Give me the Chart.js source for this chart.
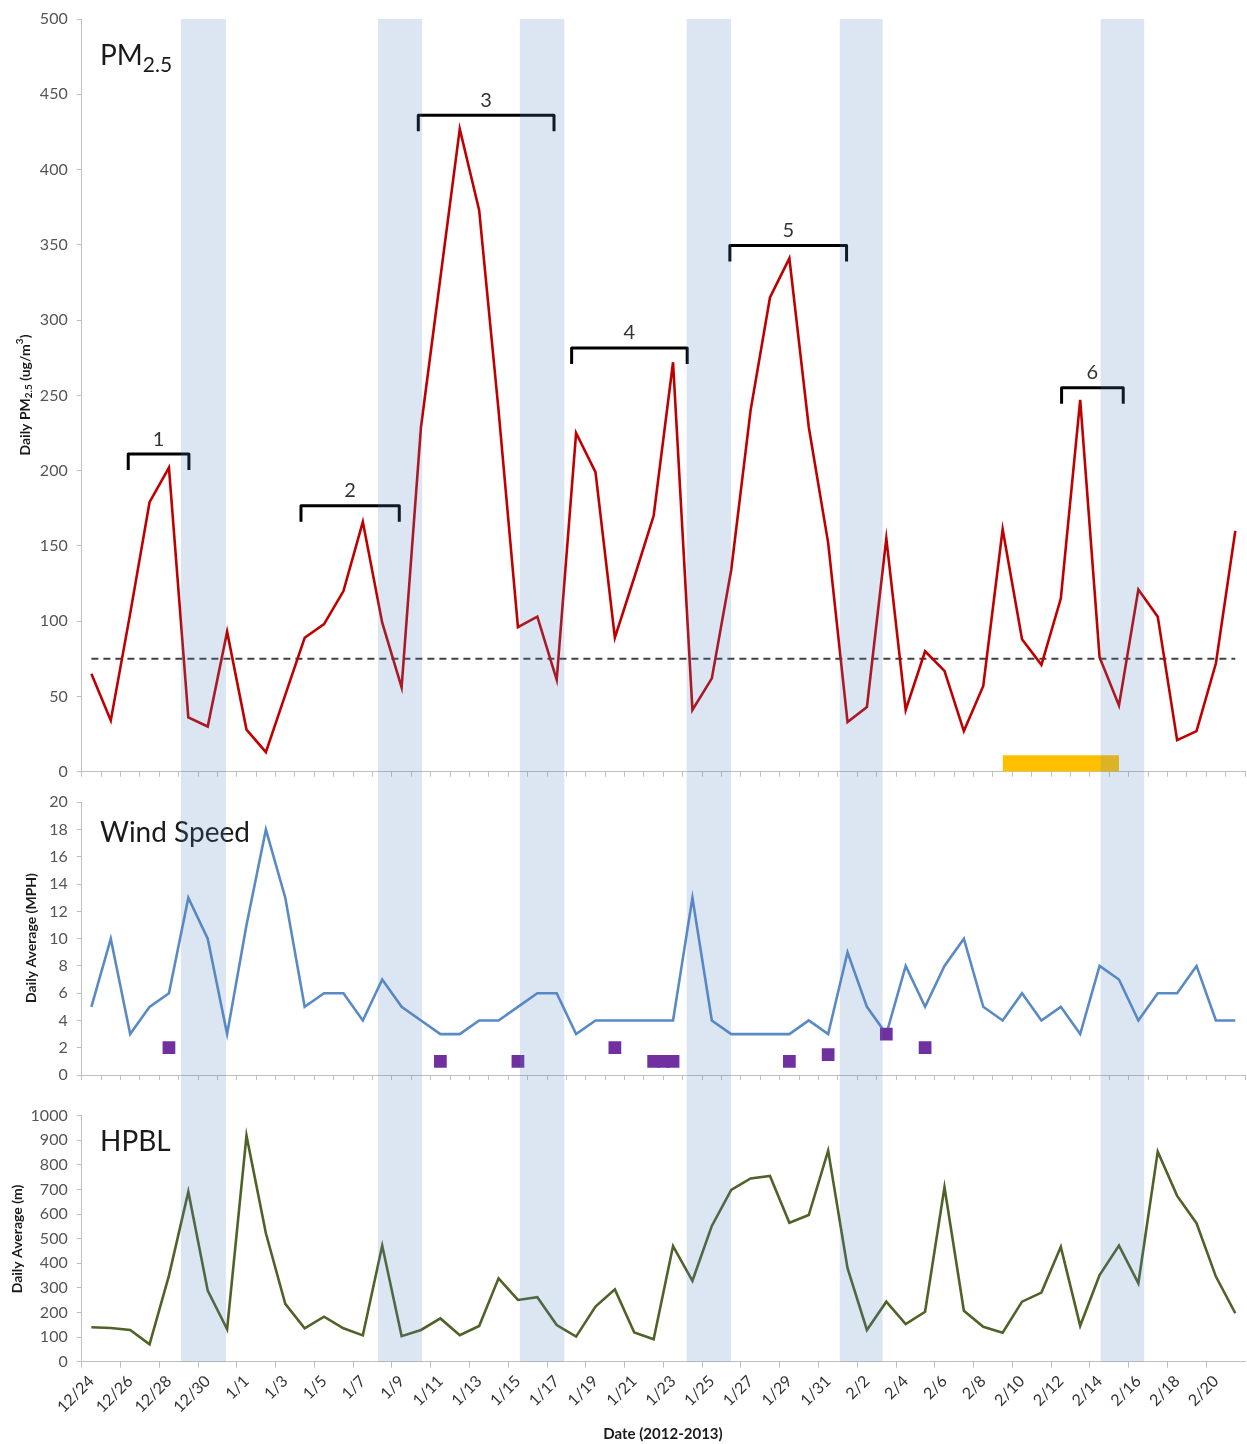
<!DOCTYPE html>
<html>
<head>
<meta charset="utf-8">
<script src="https://cdn.jsdelivr.net/npm/chart.js@4/dist/chart.umd.min.js"></script>
<style>
  html, body { margin: 0; padding: 0; background: #fff; }
  #wrap { position: relative; width: 1247px; height: 1444px; }
  canvas { position: absolute; left: 0; }
</style>
</head>
<body>
<div id="wrap">
  <canvas id="pm" width="1247" height="785" style="top:0"></canvas>
  <canvas id="wind" width="1247" height="305" style="top:785px"></canvas>
  <canvas id="hpbl" width="1247" height="354" style="top:1090px"></canvas>
</div>
<script>
// values, one per day 12/24/2012 .. 2/21/2013
const dates = ['12/24','12/25','12/26','12/27','12/28','12/29','12/30','12/31',
  '1/1','1/2','1/3','1/4','1/5','1/6','1/7','1/8','1/9','1/10','1/11','1/12','1/13','1/14','1/15','1/16',
  '1/17','1/18','1/19','1/20','1/21','1/22','1/23','1/24','1/25','1/26','1/27','1/28','1/29','1/30','1/31',
  '2/1','2/2','2/3','2/4','2/5','2/6','2/7','2/8','2/9','2/10','2/11','2/12','2/13','2/14','2/15','2/16',
  '2/17','2/18','2/19','2/20','2/21'];
const pm25 = [65,34,105,179,202,36,30,93,28,13,51,89,98,120,166,99,56,229,328,427,
  373,240,96,103,61,225,199,89,129,170,272,41,62,134,240,315,341,229,152,33,
  43,155,41,80,67,27,57,161,88,71,115,247,76,44,121,103,21,27,72,160];
const windSpeed = [5,10,3,5,6,13,10,3,11,18,13,5,6,6,4,7,5,4,3,3,
  4,4,5,6,6,3,4,4,4,4,4,13,4,3,3,3,3,4,3,9,
  5,3,8,5,8,10,5,4,6,4,5,3,8,7,4,6,6,8,4,4];
const hpbl = [140,137,129,71,350,691,289,132,919,522,235,136,183,136,107,472,104,129,176,108,
  145,339,251,262,149,102,224,294,119,91,470,329,552,698,745,755,565,596,858,380,
  129,244,153,203,709,207,142,118,244,281,467,146,352,472,319,854,674,563,346,197];

// 75 ug/m3 standard (dashed)
const pmLimit = [{x: 0, y: 75}, {x: 59, y: 75}];
// yellow period at the bottom of the PM panel
const yellowSpan = [{x: 47, y: 11}, {x: 53, y: 11}];
// purple squares in the wind panel
const calmX = [4, 18, 22, 27, 29, 29.5, 30, 36, 38, 41, 43];
const calmY = [2, 1, 1, 2, 1, 1, 1, 1, 1.5, 3, 2];
// shaded periods, in day-index units
const bands = [[4.62, 6.94], [14.78, 17.06], [22.1, 24.39], [30.7, 32.99], [38.6, 40.81], [52.05, 54.3]];
// pollution episodes (brackets)
const episodes = ['1', '2', '3', '4', '5', '6'];
const episodeFrom = [1.9, 10.81, 16.86, 24.77, 32.93, 50.04];
const episodeTo = [5.03, 15.88, 23.86, 30.73, 38.95, 53.22];
const episodeTop = [211, 176.6, 436, 281.5, 349.5, 255];

Chart.defaults.font.family = 'Lato, "Open Sans", sans-serif';
Chart.defaults.animation = false;

const AXIS = '#bfbfbf';
const FONT = 'Lato, "Open Sans", sans-serif';

function xScales(h, tl, ticks, tickColor) {
  return {
    x: {
      type: 'category',
      offset: true,
      grid: { offset: true, drawOnChartArea: false, tickLength: tl, tickColor: tickColor || AXIS },
      border: { color: AXIS },
      ticks: ticks,
      afterFit(s) { s.height = h; s.paddingLeft = 0; s.paddingRight = 0; }
    },
    xl: { type: 'linear', display: false, min: -0.5, max: 59.5 }
  };
}

function yScale(max, step) {
  return {
    min: 0, max: max,
    ticks: { stepSize: step, color: '#555', font: { size: 16 }, padding: 9, callback: v => String(v) },
    grid: { drawOnChartArea: false, tickLength: 5, color: AXIS },
    border: { color: AXIS },
    afterFit(s) { s.width = 81.7; s.paddingTop = 0; s.paddingBottom = 0; }
  };
}

function drawRich(ctx, parts, x, y, align) {
  let w = 0;
  parts.forEach(p => {
    ctx.font = (p.bold ? 'bold ' : '') + p.size + 'px ' + FONT;
    p.w = ctx.measureText(p.t).width;
    w += p.w;
  });
  let cx = align === 'center' ? x - w / 2 : x;
  parts.forEach(p => {
    ctx.font = (p.bold ? 'bold ' : '') + p.size + 'px ' + FONT;
    ctx.fillText(p.t, cx, y + (p.dy || 0));
    cx += p.w;
  });
}

const panelText = {
  id: 'panelText',
  afterDraw(chart, args, o) {
    const ctx = chart.ctx;
    ctx.save();
    ctx.fillStyle = '#1a1a1a';
    ctx.textBaseline = 'alphabetic';
    drawRich(ctx, o.title, 100, o.titleY, 'left');
    if (o.xTitle) {
      ctx.textBaseline = 'middle';
      drawRich(ctx, [{t: o.xTitle, size: 15, bold: true}], 663, o.xTitleY, 'center');
    }
    ctx.translate(o.axisX, o.axisY);
    ctx.rotate(-Math.PI / 2);
    ctx.textBaseline = 'middle';
    drawRich(ctx, o.axis, 0, 0, 'center');
    ctx.restore();
  }
};

const shade = {
  id: 'shade',
  afterDraw(chart, args, o) {
    const ctx = chart.ctx, xs = chart.scales.xl, a = chart.chartArea;
    const y0 = o.fromArea ? a.top : 0;
    const y1 = o.toArea ? a.bottom : chart.height;
    ctx.save();
    ctx.fillStyle = 'rgba(79,129,189,0.2)';
    bands.forEach(b => {
      const x0 = xs.getPixelForValue(b[0]), x1 = xs.getPixelForValue(b[1]);
      ctx.fillRect(x0, y0, x1 - x0, y1 - y0);
    });
    ctx.restore();
  }
};

const brackets = {
  id: 'brackets',
  afterDatasetsDraw(chart) {
    const ctx = chart.ctx, xs = chart.scales.xl, ys = chart.scales.y;
    ctx.save();
    ctx.strokeStyle = '#000';
    ctx.lineWidth = 3;
    ctx.lineJoin = 'round';
    ctx.fillStyle = '#333';
    ctx.font = '20px ' + FONT;
    ctx.textAlign = 'center';
    ctx.textBaseline = 'middle';
    episodes.forEach((lab, i) => {
      const x0 = xs.getPixelForValue(episodeFrom[i]);
      const x1 = xs.getPixelForValue(episodeTo[i]);
      const y = ys.getPixelForValue(episodeTop[i]);
      ctx.beginPath();
      ctx.moveTo(x0, y + 16);
      ctx.lineTo(x0, y);
      ctx.lineTo(x1, y);
      ctx.lineTo(x1, y + 16);
      ctx.stroke();
      ctx.fillText(lab, (x0 + x1) / 2, y - 15);
    });
    ctx.restore();
  }
};

const base = {
  responsive: false,
  events: [],
  plugins: { legend: { display: false }, tooltip: { enabled: false } },
  elements: { point: { radius: 0 }, line: { tension: 0 } }
};

// PM2.5 panel
new Chart(document.getElementById('pm'), {
  type: 'line',
  data: {
    labels: dates,
    datasets: [
      { data: pm25, borderColor: '#c00000', borderWidth: 2.6 },
      { data: pmLimit, xAxisID: 'xl', borderColor: '#404040', borderWidth: 2, borderDash: [7, 5] },
      { data: yellowSpan, xAxisID: 'xl', borderWidth: 0, fill: 'origin', backgroundColor: '#ffc000' }
    ]
  },
  options: Object.assign({}, base, {
    layout: { autoPadding: false, padding: { top: 19, right: 2, left: 0, bottom: 0 } },
    scales: Object.assign(xScales(13.3, 5, { display: false }), { y: yScale(500, 50) }),
    plugins: Object.assign({}, base.plugins, {
      panelText: {
        title: [{t: 'PM', size: 28}, {t: '2.5', size: 21, dy: 7}], titleY: 65,
        axisX: 25, axisY: 395,
        axis: [{t: 'Daily PM', size: 14, bold: true}, {t: '2.5', size: 10, bold: true, dy: 4},
               {t: ' (ug/m', size: 14, bold: true}, {t: '3', size: 10, bold: true, dy: -5},
               {t: ')', size: 14, bold: true}]
      },
      shade: { fromArea: true, toArea: false }
    })
  }),
  plugins: [brackets, panelText, shade]
});

// wind speed panel
new Chart(document.getElementById('wind'), {
  type: 'line',
  data: {
    labels: dates,
    datasets: [
      { data: calmX.map((x, i) => ({x: x, y: calmY[i]})), xAxisID: 'xl', showLine: false,
        pointStyle: 'rect', pointRadius: 9, backgroundColor: '#7030a0', borderWidth: 0 },
      { data: windSpeed, borderColor: '#5a8ac6', borderWidth: 2.6 }
    ]
  },
  options: Object.assign({}, base, {
    layout: { autoPadding: false, padding: { top: 17.3, right: 2, left: 0, bottom: 0 } },
    scales: Object.assign(xScales(15, 5, { display: false }), { y: yScale(20, 2) }),
    plugins: Object.assign({}, base.plugins, {
      panelText: {
        title: [{t: 'Wind Speed', size: 28}], titleY: 56.7,
        axisX: 31.5, axisY: 153,
        axis: [{t: 'Daily Average (MPH)', size: 14, bold: true}]
      },
      shade: { fromArea: false, toArea: false }
    })
  }),
  plugins: [panelText, shade]
});

// HPBL panel
new Chart(document.getElementById('hpbl'), {
  type: 'line',
  data: {
    labels: dates,
    datasets: [
      { data: hpbl, borderColor: '#4f6228', borderWidth: 2.6 }
    ]
  },
  options: Object.assign({}, base, {
    layout: { autoPadding: false, padding: { top: 25.7, right: 2, left: 0, bottom: 0 } },
    scales: Object.assign(xScales(82.3, 6, {
      autoSkip: false, minRotation: 45, maxRotation: 45, color: '#333',
      font: { size: 16 }, padding: 4,
      callback(v, i) { return i % 2 === 0 ? this.getLabelForValue(v) : ''; }
    }, ctx => ctx.index % 2 === 0 ? AXIS : 'rgba(0,0,0,0)'), { y: yScale(1000, 100) }),
    plugins: Object.assign({}, base.plugins, {
      panelText: {
        title: [{t: 'HPBL', size: 28}], titleY: 60.7,
        axisX: 17, axisY: 149,
        axis: [{t: 'Daily Average (m)', size: 14, bold: true}],
        xTitle: 'Date (2012-2013)', xTitleY: 344
      },
      shade: { fromArea: false, toArea: true }
    })
  }),
  plugins: [panelText, shade]
});
</script>
</body>
</html>
